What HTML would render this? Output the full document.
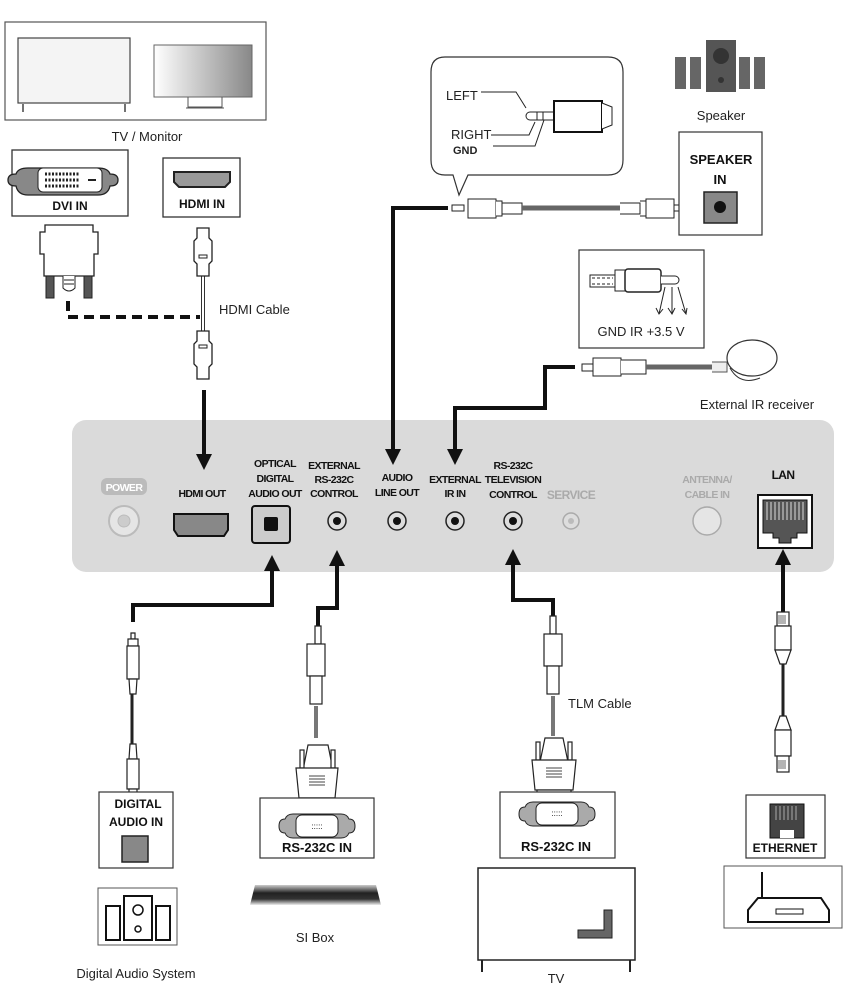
<!DOCTYPE html>
<html><head><meta charset="utf-8"><style>
html,body{margin:0;padding:0;background:#fff;}
svg{display:block;}
text{font-family:"Liberation Sans",sans-serif;}
.n{font-family:"Liberation Sans",sans-serif;font-size:13px;fill:#222;}
.b{font-weight:bold;font-size:12px;fill:#111;}
.p{font-size:10.5px;fill:#111;font-weight:bold;letter-spacing:-0.6px;}
.g{fill:#aaa;}
</style></head><body>
<svg width="854" height="1002" viewBox="0 0 854 1002" xmlns="http://www.w3.org/2000/svg">
<defs>
<linearGradient id="mg" x1="0" x2="1"><stop offset="0" stop-color="#fff"/><stop offset="1" stop-color="#888"/></linearGradient>
<linearGradient id="sb" x1="0" y1="0" x2="0" y2="1"><stop offset="0" stop-color="#ccc"/><stop offset="0.4" stop-color="#222"/><stop offset="0.7" stop-color="#333"/><stop offset="1" stop-color="#eee"/></linearGradient>
<marker id="ar" viewBox="0 0 10 10" refX="5" refY="5" markerWidth="4" markerHeight="4" orient="auto"><path d="M0,0 L10,5 L0,10 z" fill="#111"/></marker>
</defs>

<!-- Panel -->
<rect x="72" y="420" width="762" height="152" rx="14" fill="#dadada"/>
<rect x="101" y="478" width="46" height="17" rx="6" fill="#bbb"/>
<text x="124" y="491" class="p" text-anchor="middle" style="fill:#fff">POWER</text>
<circle cx="124" cy="521" r="15" fill="#e5e5e5" stroke="#bbb" stroke-width="2"/><circle cx="124" cy="521" r="6" fill="#ccc" stroke="#bbb"/>
<text x="202" y="497" class="p" text-anchor="middle">HDMI OUT</text>
<path d="M174,514h54v16l-4,6h-46l-4,-6z" fill="#888" stroke="#111" stroke-width="2"/>
<text x="275" y="467" class="p" text-anchor="middle">OPTICAL</text>
<text x="275" y="482" class="p" text-anchor="middle">DIGITAL</text>
<text x="275" y="497" class="p" text-anchor="middle">AUDIO OUT</text>
<rect x="252" y="506" width="38" height="37" rx="3" fill="#ccc" stroke="#111" stroke-width="2"/>
<rect x="264" y="517" width="14" height="14" rx="2" fill="#111"/>
<text x="334" y="469" class="p" text-anchor="middle">EXTERNAL</text>
<text x="334" y="483" class="p" text-anchor="middle">RS-232C</text>
<text x="334" y="497" class="p" text-anchor="middle">CONTROL</text>
<text x="397" y="481" class="p" text-anchor="middle">AUDIO</text>
<text x="397" y="496" class="p" text-anchor="middle">LINE OUT</text>
<text x="455" y="483" class="p" text-anchor="middle">EXTERNAL</text>
<text x="455" y="497" class="p" text-anchor="middle">IR IN</text>
<text x="513" y="469" class="p" text-anchor="middle">RS-232C</text>
<text x="513" y="483" class="p" text-anchor="middle">TELEVISION</text>
<text x="513" y="498" class="p" text-anchor="middle">CONTROL</text>
<g fill="#ddd" stroke="#222" stroke-width="1.5">
<circle cx="337" cy="521" r="9"/><circle cx="397" cy="521" r="9"/><circle cx="455" cy="521" r="9"/><circle cx="513" cy="521" r="9"/></g>
<g fill="#111"><circle cx="337" cy="521" r="4"/><circle cx="397" cy="521" r="4"/><circle cx="455" cy="521" r="4"/><circle cx="513" cy="521" r="4"/></g>
<text x="571" y="499" class="p g" text-anchor="middle" style="font-size:12px">SERVICE</text>
<circle cx="571" cy="521" r="8" fill="#ddd" stroke="#aaa" stroke-width="1.5"/><circle cx="571" cy="521" r="3" fill="#bbb"/>
<text x="707" y="483" class="p g" text-anchor="middle">ANTENNA/</text>
<text x="707" y="498" class="p g" text-anchor="middle">CABLE IN</text>
<circle cx="707" cy="521" r="14" fill="#e5e5e5" stroke="#aaa" stroke-width="1.5"/>
<text x="783" y="479" class="p" text-anchor="middle" style="font-size:12px">LAN</text>
<rect x="758" y="495" width="54" height="53" fill="#fff" stroke="#111" stroke-width="2"/>
<path d="M763,500h44v33h-10v5h-6v5h-12v-5h-6v-5h-10z" fill="#555" stroke="#111"/>
<path d="M767,502v18M771,502v18M775,502v18M779,502v18M783,502v18M787,502v18M791,502v18M795,502v18M799,502v18M803,502v18" stroke="#ddd" stroke-width="1"/>

<!-- TV / Monitor -->
<rect x="5" y="22" width="261" height="98" fill="#fff" stroke="#555" stroke-width="1.2"/>
<rect x="18" y="38" width="112" height="65" fill="#f4f4f4" stroke="#444" stroke-width="1.2"/>
<path d="M23,104v8M125,104v8" stroke="#444" stroke-width="1.5"/>
<rect x="154" y="45" width="98" height="52" fill="url(#mg)" stroke="#666"/>
<path d="M188,97v10h34v-10M186,108h38" stroke="#555" fill="none"/>
<text x="147" y="141" class="n" text-anchor="middle">TV / Monitor</text>

<!-- DVI IN -->
<rect x="12" y="150" width="116" height="66" fill="#fff" stroke="#333" stroke-width="1.3"/>
<path d="M28,168 h70 q10,0 12,6 q8,0 8,6 q0,6 -8,6 q-2,9 -12,9 h-70 q-10,0 -12,-9 q-8,0 -8,-6 q0,-6 8,-6 q2,-6 12,-6z" fill="#888" stroke="#222" stroke-width="1.3"/>
<rect x="38" y="168" width="64" height="24" rx="5" fill="#fff" stroke="#222"/>
<path d="M45,174h35M45,180h35M45,186h35" stroke="#222" stroke-width="3" stroke-dasharray="2 1.5"/>
<path d="M88,180h8" stroke="#222" stroke-width="2"/>
<text x="70" y="210" class="b" text-anchor="middle">DVI IN</text>

<!-- HDMI IN -->
<rect x="163" y="158" width="77" height="59" fill="#fff" stroke="#333" stroke-width="1.3"/>
<path d="M174,172h56v10l-5,5h-46l-5,-5z" fill="#999" stroke="#222" stroke-width="2"/>
<text x="202" y="208" class="b" text-anchor="middle">HDMI IN</text>

<!-- DVI adapter -->
<path d="M40,232h5v-7h48v7h5v22h-4v22h-50v-22h-4z" fill="#fff" stroke="#222" stroke-width="1.3"/>
<rect x="46" y="276" width="8" height="22" fill="#555" stroke="#222"/>
<rect x="84" y="276" width="8" height="22" fill="#555" stroke="#222"/>
<path d="M63,276v12q6,6 12,0v-12" fill="#fff" stroke="#222"/>
<path d="M64,280h10M64,284h10" stroke="#222"/>
<path d="M68,301v16h132" stroke="#111" stroke-width="4" fill="none" stroke-dasharray="10 6"/>

<!-- HDMI cable -->
<path d="M203,273v60" stroke="#333" stroke-width="4"/>
<path d="M203,273v60" stroke="#fff" stroke-width="2"/>
<path d="M197,228h12v10l3,3v20l-3,3v12h-12v-12l-3,-3v-20l3,-3z" fill="#fff" stroke="#222" stroke-width="1.3"/>
<rect x="199" y="255" width="8" height="3" fill="none" stroke="#222"/>
<path d="M197,331h12v10l3,3v20l-3,3v12h-12v-12l-3,-3v-20l3,-3z" fill="#fff" stroke="#222" stroke-width="1.3"/>
<rect x="199" y="345" width="8" height="3" fill="none" stroke="#222"/>
<text x="219" y="314" class="n">HDMI Cable</text>
<path d="M204,390v72" stroke="#111" stroke-width="4" marker-end="url(#ar)"/>

<!-- Bubble -->
<path d="M445,57h163q15,0 15,15v88q0,15 -15,15h-140l-9,20l-6,-20h-8q-14,0 -14,-15v-88q0,-15 14,-15z" fill="#fff" stroke="#333" stroke-width="1.2"/>
<text x="446" y="100" class="n">LEFT</text>
<text x="451" y="139" class="n">RIGHT</text>
<text x="453" y="154" style="font-size:11px;font-weight:bold;fill:#222">GND</text>
<path d="M481,92h35l10,16M491,135h38l6,-13M493,146h42l9,-26" stroke="#222" fill="none"/>
<path d="M530,112a4,4 0 0,0 0,8h24v-8z" fill="#fff" stroke="#222"/>
<path d="M537,112v8M543,112v8" stroke="#222"/>
<rect x="554" y="101" width="48" height="31" fill="#fff" stroke="#111" stroke-width="2"/>
<path d="M602,103l10,4v18l-10,4M612,107v18" fill="#fff" stroke="#222"/>

<!-- Audio cable -->
<path d="M393,450v-242h55" stroke="#111" stroke-width="4" fill="none"/>
<path d="M393,450v7" stroke="#111" stroke-width="4" marker-end="url(#ar)"/>
<path d="M452,205h12v6h-12z" fill="#fff" stroke="#222"/>
<rect x="468" y="199" width="28" height="19" fill="#fff" stroke="#222"/>
<path d="M496,201h6v15h-6M502,203h20v11h-20" fill="#fff" stroke="#222"/>
<path d="M522,208h100" stroke="#666" stroke-width="5"/>
<path d="M620,203h20v11h-20M640,201h6v15h-6" fill="#fff" stroke="#222"/>
<rect x="646" y="199" width="28" height="19" fill="#fff" stroke="#222"/>
<path d="M674,205h14a3,3 0 0,1 0,6h-14z" fill="#fff" stroke="#222"/>

<!-- Speaker -->
<rect x="706" y="40" width="30" height="52" fill="#555"/>
<circle cx="721" cy="56" r="8" fill="#333"/><circle cx="721" cy="80" r="3" fill="#333"/>
<rect x="675" y="57" width="11" height="32" fill="#666"/><rect x="690" y="57" width="11" height="32" fill="#666"/>
<rect x="739" y="57" width="11" height="32" fill="#666"/><rect x="754" y="57" width="11" height="32" fill="#666"/>
<text x="721" y="120" class="n" text-anchor="middle">Speaker</text>
<rect x="679" y="132" width="83" height="103" fill="#fff" stroke="#333" stroke-width="1.2"/>
<text x="721" y="164" class="b" text-anchor="middle" style="font-size:13px">SPEAKER</text>
<text x="720" y="184" class="b" text-anchor="middle" style="font-size:13px">IN</text>
<rect x="704" y="192" width="33" height="31" fill="#888" stroke="#222" stroke-width="1.5"/>
<circle cx="720" cy="207" r="6" fill="#111"/>

<!-- IR box -->
<rect x="579" y="250" width="125" height="98" fill="#fff" stroke="#333" stroke-width="1.2"/>
<path d="M590,275h25v12h-25z" fill="#fff" stroke="#222"/>
<path d="M592,278h21M592,284h21" stroke="#222" stroke-dasharray="3 2"/>
<rect x="615" y="270" width="12" height="21" fill="#fff" stroke="#222"/>
<rect x="625" y="269" width="36" height="23" rx="3" fill="#fff" stroke="#222" stroke-width="1.5"/>
<path d="M661,276h14a4,4 0 0,1 0,8h-14" fill="#fff" stroke="#222"/>
<path d="M665,287l-6,27M672,287v27M678,287l8,27" stroke="#222" fill="none"/>
<path d="M656,308l3,6l4,-5M668,308l4,6l3,-6M682,309l4,5l1,-6" stroke="#222" fill="none"/>
<text x="641" y="336" class="n" text-anchor="middle">GND IR +3.5 V</text>

<!-- IR cable -->
<path d="M455,450v-42h90v-41h30" stroke="#111" stroke-width="4" fill="none"/>
<path d="M455,450v7" stroke="#111" stroke-width="4" marker-end="url(#ar)"/>
<path d="M582,364h12v7h-12z" fill="#fff" stroke="#222"/>
<rect x="593" y="358" width="28" height="18" fill="#fff" stroke="#222"/>
<path d="M621,360h25v14h-25" fill="#fff" stroke="#222"/>
<path d="M646,367h66" stroke="#666" stroke-width="5"/>
<path d="M712,362h15v10h-15" fill="#eee" stroke="#555"/>
<ellipse cx="752" cy="358" rx="25" ry="18" fill="#fff" stroke="#333" stroke-width="1.2"/>
<path d="M730,368q10,18 30,10" fill="none" stroke="#333"/>
<text x="757" y="409" class="n" text-anchor="middle">External IR receiver</text>

<!-- Lower arrows -->
<g stroke="#111" stroke-width="4" fill="none">
<path d="M133,622v-17h139v-35"/>
<path d="M318,626v-18h19v-40"/>
<path d="M553,616v-16h-40v-33"/>
<path d="M783,612v-45"/>
</g>
<g stroke="#111" stroke-width="4">
<path d="M272,575v-12" marker-end="url(#ar)"/>
<path d="M337,570v-12" marker-end="url(#ar)"/>
<path d="M513,569v-12" marker-end="url(#ar)"/>
<path d="M783,569v-12" marker-end="url(#ar)"/>
</g>

<!-- Optical cable -->
<g fill="#fff" stroke="#222" stroke-width="1.2">
<path d="M131,633h4v6h-4z"/><rect x="128" y="639" width="10" height="7"/><rect x="127" y="646" width="12" height="33"/><path d="M129,679h8l-1,15h-6z"/>
<path d="M132,694v50" stroke-width="3"/>
<path d="M130,744h6l1,15h-8z"/><rect x="127" y="759" width="12" height="30"/><rect x="129" y="789" width="8" height="6"/><path d="M131,795h4v5h-4z"/>
</g>
<rect x="99" y="792" width="74" height="76" fill="#fff" stroke="#333" stroke-width="1.2"/>
<text x="138" y="808" class="b" text-anchor="middle">DIGITAL</text>
<text x="136" y="826" class="b" text-anchor="middle">AUDIO IN</text>
<rect x="122" y="836" width="26" height="26" fill="#888" stroke="#222" stroke-width="1.5"/>
<rect x="98" y="888" width="79" height="57" fill="#fff" stroke="#555"/>
<rect x="124" y="896" width="28" height="44" fill="#fff" stroke="#111" stroke-width="2"/>
<circle cx="138" cy="910" r="5" fill="none" stroke="#111" stroke-width="1.5"/><circle cx="138" cy="929" r="3" fill="none" stroke="#111" stroke-width="1.5"/>
<rect x="106" y="906" width="14" height="34" fill="#fff" stroke="#111" stroke-width="2"/>
<rect x="156" y="906" width="14" height="34" fill="#fff" stroke="#111" stroke-width="2"/>
<text x="136" y="978" class="n" text-anchor="middle">Digital Audio System</text>

<!-- RS232 SI -->
<g fill="#fff" stroke="#222" stroke-width="1.2">
<path d="M315,626h6v18h-6z"/><rect x="307" y="644" width="18" height="32"/><rect x="310" y="676" width="12" height="28"/>
</g>
<path d="M316,706v32" stroke="#777" stroke-width="4"/>
<g fill="#fff" stroke="#222" stroke-width="1.2">
<path d="M308,745h20l5,25h-30z"/><rect x="300" y="750" width="4" height="18"/><rect x="331" y="750" width="4" height="18"/>
<path d="M296,768h42l-3,30h-36z"/><rect x="300" y="798" width="34" height="6"/>
</g>
<path d="M309,776h16M309,779h16M309,782h16M309,785h16" stroke="#444"/>
<rect x="260" y="798" width="114" height="60" fill="#fff" stroke="#333" stroke-width="1.2"/>
<path d="M293,814h48q6,0 8,5q6,0 6,7q0,7 -6,7q-2,5 -8,5h-48q-6,0 -8,-5q-6,0 -6,-7q0,-7 6,-7q2,-5 8,-5z" fill="#aaa" stroke="#222"/>
<rect x="296" y="815" width="42" height="22" rx="6" fill="#fff" stroke="#222"/>
<text x="317" y="829" style="font-size:8px" text-anchor="middle">:::::</text>
<text x="317" y="852" class="b" text-anchor="middle" style="font-size:13px">RS-232C IN</text>
<path d="M255,885h121l5,20h-131z" fill="url(#sb)"/>
<text x="315" y="942" class="n" text-anchor="middle">SI Box</text>

<!-- RS232 TV -->
<g fill="#fff" stroke="#222" stroke-width="1.2">
<path d="M550,616h6v18h-6z"/><rect x="544" y="634" width="18" height="32"/><rect x="547" y="666" width="12" height="28"/>
</g>
<path d="M553,696v40" stroke="#777" stroke-width="4"/>
<text x="568" y="708" class="n">TLM Cable</text>
<g fill="#fff" stroke="#222" stroke-width="1.2">
<path d="M545,738h18l5,24h-28z"/><rect x="536" y="742" width="4" height="18"/><rect x="568" y="742" width="4" height="18"/>
<path d="M532,760h44l-3,30h-38z"/><rect x="537" y="790" width="34" height="6"/>
</g>
<path d="M546,768h16M546,771h16M546,774h16M546,777h16" stroke="#444"/>
<rect x="500" y="792" width="115" height="66" fill="#fff" stroke="#333" stroke-width="1.2"/>
<path d="M533,802h48q6,0 8,5q6,0 6,7q0,7 -6,7q-2,5 -8,5h-48q-6,0 -8,-5q-6,0 -6,-7q0,-7 6,-7q2,-5 8,-5z" fill="#aaa" stroke="#222"/>
<rect x="536" y="803" width="42" height="22" rx="6" fill="#fff" stroke="#222"/>
<text x="557" y="816" style="font-size:8px" text-anchor="middle">:::::</text>
<text x="556" y="851" class="b" text-anchor="middle" style="font-size:13px">RS-232C IN</text>
<rect x="478" y="868" width="157" height="92" fill="#fff" stroke="#222" stroke-width="1.5"/>
<path d="M482,960v12M630,960v12" stroke="#222" stroke-width="2"/>
<path d="M578,930h26v-20h8v28h-34z" fill="#666" stroke="#222"/>
<text x="556" y="983" class="n" text-anchor="middle">TV</text>

<!-- LAN cable -->
<g fill="#fff" stroke="#222" stroke-width="1.2">
<rect x="777" y="612" width="12" height="14"/><rect x="775" y="626" width="16" height="24"/><path d="M775,650h16l-5,14h-6z"/>
<path d="M783,664v52" stroke-width="3"/>
<path d="M780,716h6l5,14h-16z"/><rect x="775" y="730" width="16" height="26"/><rect x="777" y="756" width="12" height="16"/>
</g>
<path d="M779,615v9M781,615v9M783,615v9M785,615v9M779,760v9M781,760v9M783,760v9M785,760v9" stroke="#444" stroke-width="0.8"/>
<rect x="746" y="795" width="79" height="63" fill="#fff" stroke="#333" stroke-width="1.2"/>
<rect x="770" y="804" width="34" height="34" fill="#444" stroke="#111"/>
<path d="M776,806v14M780,806v14M784,806v14M788,806v14M792,806v14M796,806v14" stroke="#aaa"/>
<path d="M780,830h14v8h-14z" fill="#fff"/>
<text x="785" y="852" class="b" text-anchor="middle">ETHERNET</text>
<rect x="724" y="866" width="118" height="62" fill="#fff" stroke="#555"/>
<path d="M762,872v25" stroke="#111" stroke-width="2"/>
<path d="M748,910l10,-12h63l8,12v12h-81z" fill="#fff" stroke="#111" stroke-width="2"/>
<rect x="776" y="909" width="27" height="5" fill="none" stroke="#111"/>
</svg>
</body></html>
